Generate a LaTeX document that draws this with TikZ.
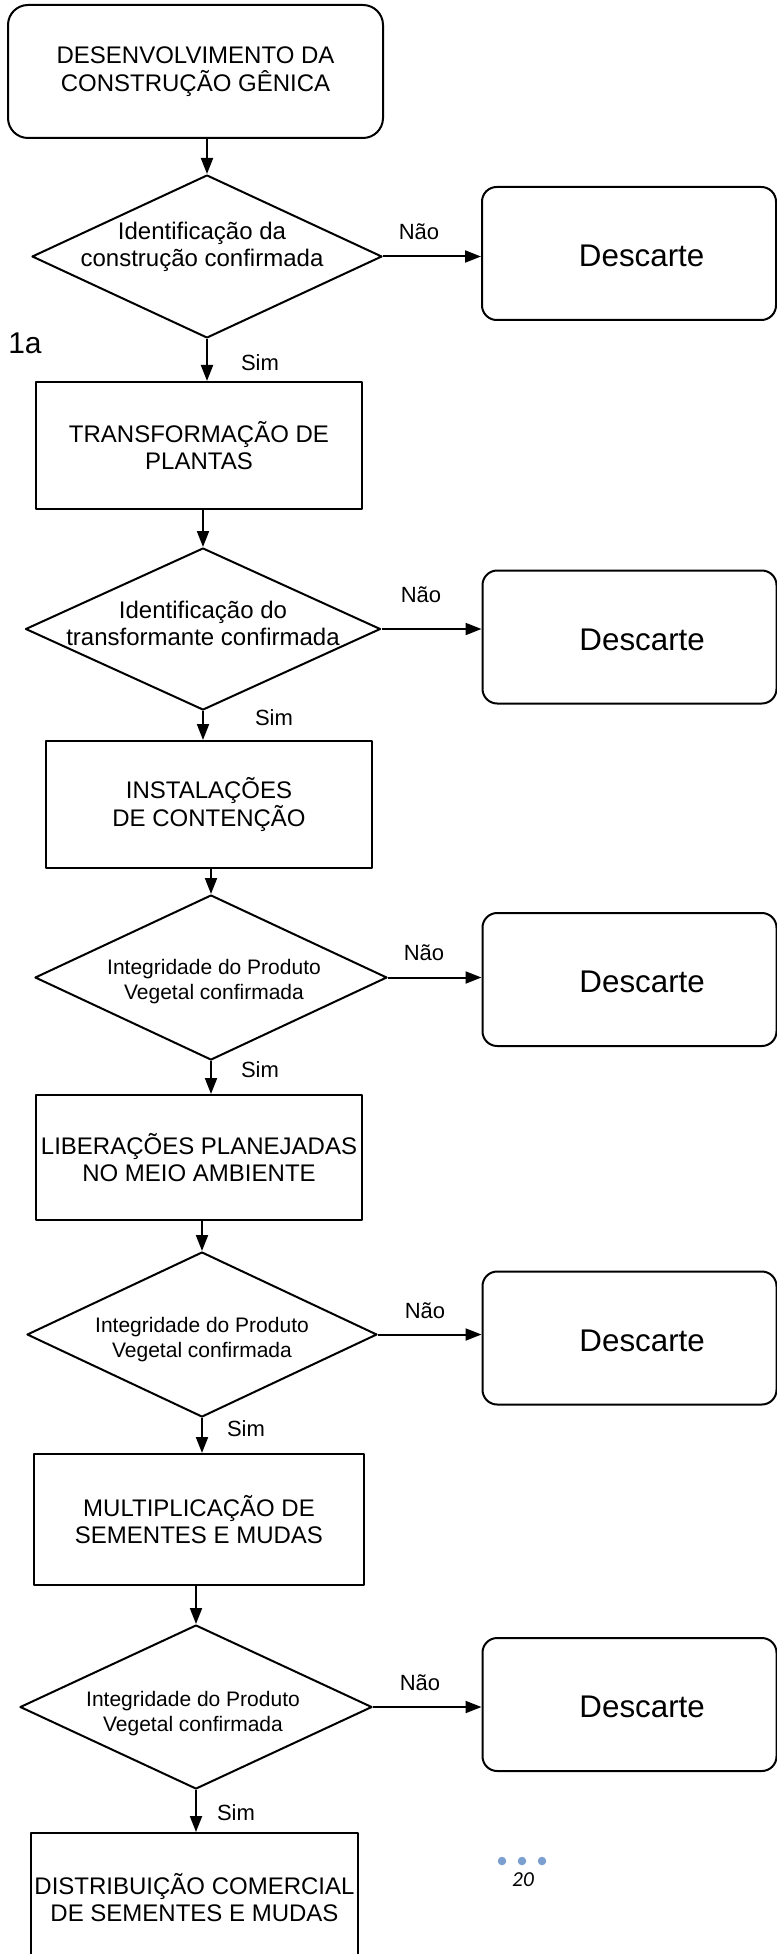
\documentclass[tikz,border=0pt]{standalone}
\usepackage{fontspec}
\setmainfont{Liberation Sans}
\newfontfamily\carlito{Carlito}
\usepackage{tikz}
\usetikzlibrary{shapes.geometric,arrows.meta}
\definecolor{pontoazul}{RGB}{123,160,208}

\begin{document}
\begin{tikzpicture}[x=0.75pt, y=-0.75pt, line width=1.5pt, line join=round,
  etapa/.style={draw, rectangle, align=center, inner sep=0pt,
    font=\fontsize{18}{20.7}\selectfont},
  inicio/.style={etapa, rounded corners=15pt},
  rotdesc/.style={inner sep=0pt, xshift=9.5pt, yshift=-2pt,
    font=\fontsize{23.5}{27}\selectfont},
  descarte/.style={draw, rectangle, rounded corners=11pt, inner sep=0pt,
    minimum width=220.5pt, minimum height=99.75pt,
    label={[rotdesc]center:Descarte}},
  decisao/.style={draw, diamond, inner sep=0pt},
  txtdec/.style={align=center, inner sep=0pt, font=\fontsize{18}{20.25}\selectfont},
  txtint/.style={align=center, inner sep=0pt, font=\fontsize{15.75}{18.75}\selectfont},
  resp/.style={inner sep=0pt, font=\fontsize{16.5}{19}\selectfont},
  seta/.style={-{Triangle[length=12pt, width=9pt]}}]
  \useasboundingbox (0,0) rectangle (777,1954);
  \clip (0,0) rectangle (777,1954);

  % inicio
  \node[inicio, minimum width=281.25pt, minimum height=99.75pt] (inicio) at (195.5,71.5)
    {DESENVOLVIMENTO DA\\CONSTRUÇÃO GÊNICA};

  % 1a decisao
  \node[decisao, minimum width=262.5pt, minimum height=122.25pt] (dec1) at (207,256.5) {};
  \node[txtdec] (tdec1) at (202,247) {Identificação da\\construção confirmada};
  \node[descarte] (desc1) at (629,253.5) {};
  \node[inner sep=0pt, font=\fontsize{22.5}{26}\selectfont] (fig) at (25,343) {1a};

  \node[etapa, minimum width=244.5pt, minimum height=95.25pt] (transf) at (199,445.5)
    {TRANSFORMAÇÃO DE\\PLANTAS};

  % 2a decisao
  \node[decisao, minimum width=266.25pt, minimum height=121.5pt] (dec2) at (203,629) {};
  \node[txtdec] (tdec2) at (203,623) {Identificação do\\transformante confirmada};
  \node[descarte] (desc2) at (629.5,637) {};

  \node[etapa, minimum width=244.5pt, minimum height=95.25pt] (contencao) at (209,804.5)
    {INSTALAÇÕES\\DE CONTENÇÃO};

  % 3a decisao
  \node[decisao, minimum width=264pt, minimum height=123.75pt] (dec3) at (211,977.5) {};
  \node[txtint] (tdec3) at (214,982) {Integridade do Produto\\Vegetal confirmada};
  \node[descarte] (desc3) at (629.5,979.5) {};

  \node[etapa, minimum width=244.5pt, minimum height=93.75pt] (liberacoes) at (199,1157.5)
    {LIBERAÇÕES PLANEJADAS\\NO MEIO AMBIENTE};

  % 4a decisao
  \node[decisao, minimum width=262.5pt, minimum height=123.75pt] (dec4) at (202,1334.5) {};
  \node[txtint] (tdec4) at (202,1340) {Integridade do Produto\\Vegetal confirmada};
  \node[descarte] (desc4) at (629.5,1338) {};

  \node[etapa, minimum width=247.5pt, minimum height=98.25pt] (multiplic) at (199,1519.5)
    {MULTIPLICAÇÃO DE\\SEMENTES E MUDAS};

  % 5a decisao
  \node[decisao, minimum width=264pt, minimum height=123pt] (dec5) at (196,1707) {};
  \node[txtint] (tdec5) at (193,1714) {Integridade do Produto\\Vegetal confirmada};
  \node[descarte] (desc5) at (629.5,1704.5) {};

  \node[etapa, minimum width=245.25pt, minimum height=96.75pt] (distrib) at (194.5,1897.5)
    {DISTRIBUIÇÃO COMERCIAL\\DE SEMENTES E MUDAS};

  % setas
  \draw[seta] (inicio.south -| dec1.north) -- (dec1.north);
  \draw[seta] (dec1.east) -- (dec1.east -| desc1.west);
  \draw[seta] (dec1.south) -- (dec1.south |- transf.north);
  \draw[seta] (transf.south -| dec2.north) -- (dec2.north);
  \draw[seta] (dec2.east) -- (dec2.east -| desc2.west);
  \draw[seta] (dec2.south) -- (dec2.south |- contencao.north);
  \draw[seta] (contencao.south -| dec3.north) -- (dec3.north);
  \draw[seta] (dec3.east) -- (dec3.east -| desc3.west);
  \draw[seta] (dec3.south) -- (dec3.south |- liberacoes.north);
  \draw[seta] (liberacoes.south -| dec4.north) -- (dec4.north);
  \draw[seta] (dec4.east) -- (dec4.east -| desc4.west);
  \draw[seta] (dec4.south) -- (dec4.south |- multiplic.north);
  \draw[seta] (multiplic.south -| dec5.north) -- (dec5.north);
  \draw[seta] (dec5.east) -- (dec5.east -| desc5.west);
  \draw[seta] (dec5.south) -- (dec5.south |- distrib.north);

  % respostas
  \node[resp] (nao1) at (419,232) {Não};
  \node[resp] (sim1) at (260,363) {Sim};
  \node[resp] (nao2) at (421,595) {Não};
  \node[resp] (sim2) at (274,718) {Sim};
  \node[resp] (nao3) at (424,953) {Não};
  \node[resp] (sim3) at (260,1070) {Sim};
  \node[resp] (nao4) at (425,1311) {Não};
  \node[resp] (sim4) at (246,1429) {Sim};
  \node[resp] (nao5) at (420,1683) {Não};
  \node[resp] (sim5) at (236,1813) {Sim};

  % rodape
  \foreach \px in {502,522,542}{
    \fill[pontoazul] (\px,1861) circle (3.2pt);
  }
  \node[inner sep=0pt, font=\carlito\itshape\fontsize{16}{19}\selectfont] (pagina) at (523,1880) {20};
\end{tikzpicture}
\end{document}
